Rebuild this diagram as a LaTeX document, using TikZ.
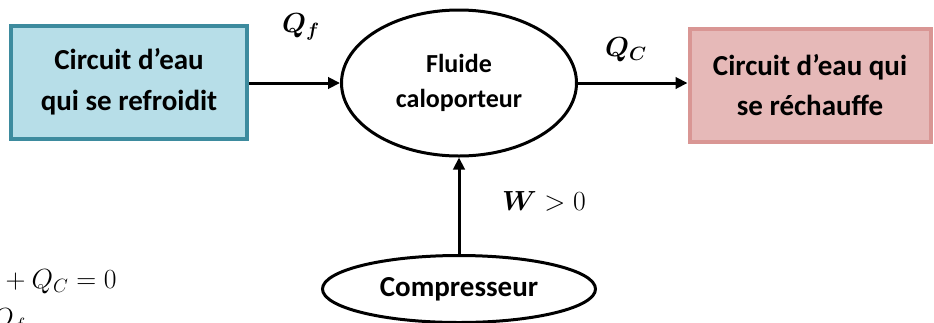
\documentclass[tikz,border=0pt]{standalone}
\usepackage{fontspec}
\setmainfont{Carlito}
\usepackage{bm}
\usetikzlibrary{arrows.meta, shapes.geometric}
\definecolor{cblue}{HTML}{B7DEE8}
\definecolor{cblueline}{HTML}{3D8B9E}
\definecolor{cpink}{HTML}{E6B9B8}
\definecolor{cpinkline}{HTML}{D99694}
\tikzset{
  every picture/.style={line width=2.25pt},
  box/.style={draw=#1line, fill=#1, line width=3pt, align=center, inner sep=0pt,
    font=\bfseries\fontsize{21.75}{30.5}\selectfont},
  blob/.style={ellipse, draw=black, fill=white, line width=2.25pt, align=center, inner sep=0pt},
  arrow/.style={-{Triangle[length=9pt, width=8.5pt]}, draw=black, line width=2.25pt},
  qty/.style={font=\fontsize{22}{26}\selectfont},
}

\begin{document}
\begin{tikzpicture}[x=0.75pt, y=-0.75pt]
  \useasboundingbox (0,0) rectangle (934,322);
  \clip (0,0) rectangle (934,322);

  \node[box=cblue, minimum width=177pt, minimum height=84.75pt] (cold) at (129,82) {Circuit d’eau\\qui se refroidit};
  \node[blob, minimum width=176.25pt, minimum height=109.5pt,
        font=\bfseries\fontsize{19.5}{26.5}\selectfont] (fluid) at (459,83) {Fluide\\caloporteur};
  \node[box=cpink, minimum width=180.75pt, minimum height=84.75pt] (hot) at (810,85) {Circuit d’eau qui\\se réchauffe};
  \node[blob, minimum width=204.75pt, minimum height=50.25pt,
        font=\bfseries\fontsize{21.75}{26}\selectfont] (comp) at (459,289) {\raisebox{-3pt}{Compresseur}};

  % heat and work
  \draw[arrow] (cold.east |- fluid.west) -- (fluid.west);
  \draw[arrow] (fluid.east) -- (fluid.east -| hot.west);
  \draw[arrow] (comp.north) -- (fluid.south);

  \node[qty] (qf) at (301,27) {$\bm{Q_f}$};
  \node[qty] (qc) at (626,50) {$\bm{Q_C}$};
  \node[qty] (w)  at (544,201) {$\bm{W}>0$};

  % balance, cut at the edge
  \node[qty, anchor=base west, inner sep=0pt] (bal) at (-2,288) {${}+Q_C=0$};
  \node[qty, anchor=base west, inner sep=0pt] (bal2) at (-9,327) {$Q_f$};
\end{tikzpicture}
\end{document}
